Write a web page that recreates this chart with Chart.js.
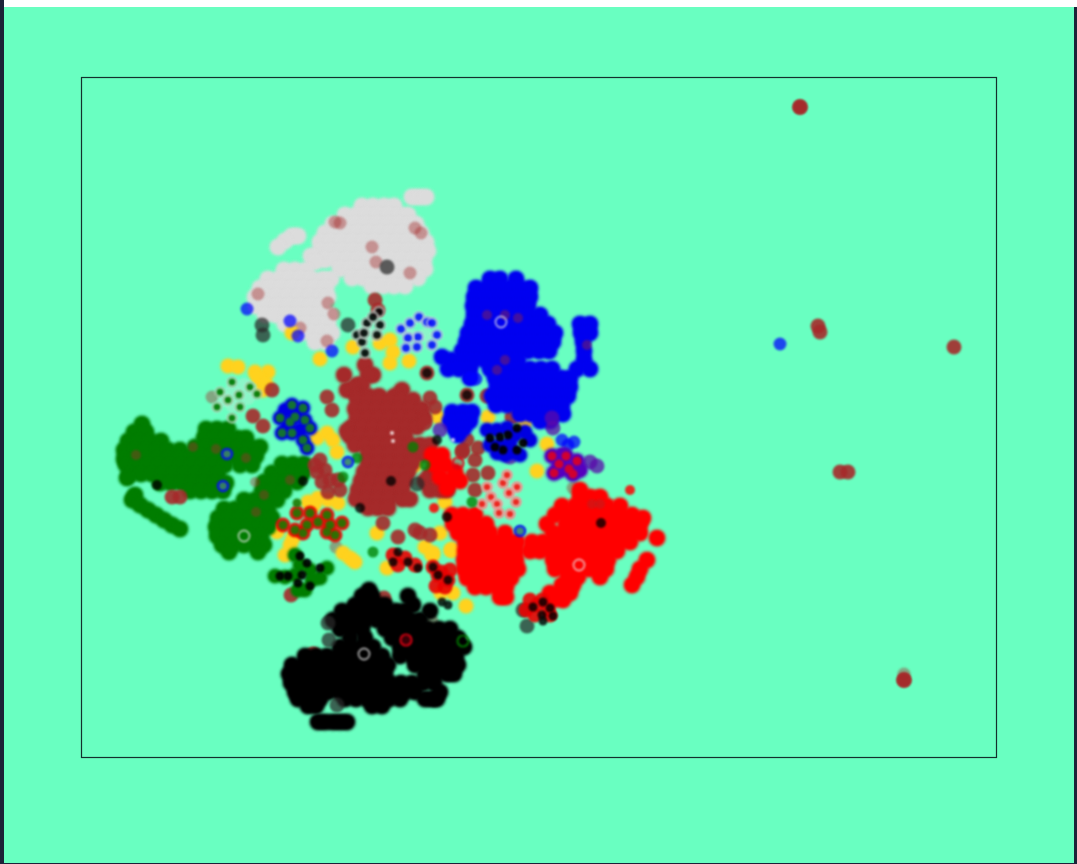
<!DOCTYPE html>
<html><head><meta charset="utf-8">
<style>
html,body{margin:0;padding:0;background:#1c2238;width:1077px;height:864px;overflow:hidden}
#top{position:absolute;left:4px;top:0;width:1073px;height:7px;background:#fff}
#wrap{position:absolute;left:4px;top:7px;width:1070px;height:856px;background:#69ffc1;overflow:hidden}
canvas{display:block}
</style>
<script src="https://cdn.jsdelivr.net/npm/chart.js@4"></script>
</head><body><div id="top"></div><div id="wrap"><canvas id="c" width="1070" height="856"></canvas></div>
<script>
// Each row: [y, x, x, x ...] — embedding coordinates
const grayRows=[[197,412,419,426],[206,362,373,384,394],[215,345,356,367,378,389,400,408],[224,333,344,355,366,377,388,399,410,416],[233,325,336,347,358,369,380,391,402,413,421],[242,320,331,342,353,364,375,386,397,408,419,426],[251,320,331,342,353,364,375,386,397,408,419,428],[260,325,336,347,358,369,380,391,402,413,424],[269,340,351,362,373,384,395,406,417,425],[278,352,363,374,385,396,407,418],[286,372,383,394,405],[236,292,298],[241,285],[247,278],[256,311],[262,315],[270,284,295,306],[279,268,279,290,301,312,323,331],[288,260,271,282,293,304,315,326],[297,255,266,277,288,299,310,321,328],[306,256,267,278,289,300,311,322],[315,265,276,287,298,309,320,330],[324,285,296,307,318,328],[333,300,311,322,332],[342,315,326]];
const greenRows=[[424,142],[429,206,217,228],[432,134,146],[438,204,215,226,237,246],[441,128,139,150,161],[447,195,206,217,228,239,250,260],[450,124,135,146,157,168,180],[456,190,201,212,223,234,245,256],[459,124,135,146,157,168,179],[465,126,137,148,159,170,181,192,203,214,225,240,252],[474,130,141,152,163,174,185,196,207,218],[483,160,171,182,193,204,215,226],[491,190,201,212,223],[478,127],[495,135],[500,132],[505,140],[510,148],[515,156],[520,164],[525,172],[529,180],[464,282,293,304],[473,272,283,294,303],[482,264,275,286,297],[491,262,273,284],[500,244,255,266,277],[509,224,235,246,257,268],[518,218,229,240,251,262,272],[527,216,227,238,249,260,268],[536,217,228,239,250,261],[545,222,233,244,255,264],[552,229,258]];
const blueRows=[[279,490,500,516],[288,476,487,498,509,520,530],[297,474,485,496,507,518,530],[306,473,484,495,506,517,528],[315,474,485,496,507,518,529,540],[324,472,483,494,505,516,527,538,548,580,590],[333,468,479,490,501,512,523,534,545,555,581,590],[342,466,477,488,499,510,521,532,543,553,583],[351,462,473,484,495,506,517,528,539,549,584],[360,452,463,474,485,496,507,518,584],[369,448,459,470,490,497,508,520,530,541,552,577,590],[378,470,495,506,517,528,539,550,561,570],[387,497,508,519,530,541,552,563,570],[396,492,503,514,525,536,547,558,568],[405,496,507,518,529,540,551,562],[414,520,531,542,553,563],[421,540,550],[412,452,463,472],[421,450,460,470],[428,454,464],[435,458],[357,442]];
const brownRows=[[365,365],[375,344,373,368],[385,357,362],[390,347,353,402],[396,357,368,379,395],[400,358,369,380,391,402,413],[409,355,366,377,388,399,410,422],[418,357,368,379,390,401,412,424],[427,352,363,374,385,396,407,417],[431,347],[436,350,361,372,383,394,405],[445,355,366,377,388,399,410,420,430],[454,368,379,390,401,412,422],[463,368,379,390,401,412],[472,364,375,386,397,408],[481,361,372,383,394,405,425],[490,358,369,380,391,402,430,440,447],[499,356,367,378,389,402,410],[508,368,378,388],[475,430],[485,440]];
const redRows=[[455,432,442],[465,435,445],[472,455],[477,440],[481,450,460],[488,447],[515,452,463,475],[524,453,464,475,486],[533,458,468,479,490,505],[542,465,476,487,498,509,517],[551,465,476,487,498,509,516],[560,464,475,486,497,508,516],[569,464,475,486,497,508,518],[578,467,478,489,500,511],[587,475,486,497,506],[597,500,506],[490,580],[497,580,590,600],[506,562,575,586,597,607,620],[515,555,566,577,588,599,610,621,632],[524,547,566,575,586,597,608,619,630,640],[533,553,563,574,585,596,607,618,630,640],[542,532,543,554,565,576,587,598,609,620,630],[551,530,540,551,562,573,584,595,606,617],[560,553,564,575,586,597,608,647],[569,555,566,577,588,596,606,640],[577,568,578,600,637],[585,562,573,632],[593,550,560,570],[600,553,563],[538,657],[518,643]];
const blackRows=[[590,369],[596,362,372,408],[605,355,366,377,385,413],[611,342,352,363,374,385,396,405,430],[620,333,344,355,366,377,388,399,410,420],[629,340,351,362,385,396,407,418,428,439,450],[638,350,365,392,403,414,425,436,447,458],[647,340,351,362,373,400,411,422,433,444,455,464],[656,305,316,327,338,349,360,371,382,400,412,423,434,445,456],[665,292,303,314,325,336,347,358,369,380,388,415,426,437,448,458],[674,289,300,311,322,333,344,355,366,377,385,425,436,447,454],[683,291,302,313,324,335,346,357,368,379,390,401,412,423,434],[692,295,306,317,328,339,350,361,372,383,394,405,415,440],[699,298,309,320,345,356,367,378,389,400,425,432,437],[706,308,316,372,382],[722,318,325,333,340,347]];
// Scattered single marks as [x, y]
const goldPts=[[228,366],[238,367],[255,372],[268,372],[262,380],[258,377],[263,390],[266,384],[317,438],[327,433],[333,440],[337,452],[308,502],[318,498],[328,500],[338,503],[314,505],[277,532],[293,538],[290,545],[285,555],[343,553],[350,558],[355,562],[387,568],[377,533],[445,502],[440,533],[425,547],[432,555],[452,550],[415,465],[438,417],[488,417],[525,422],[441,593],[453,593],[466,606],[451,550],[433,553],[547,444],[537,471],[292,333],[320,359],[353,347],[380,343],[390,340],[393,352],[390,363],[409,361]];
const looseBrown=[[253,416],[263,426],[272,390],[327,397],[332,410],[320,460],[325,470],[317,472],[330,480],[322,482],[338,480],[340,490],[328,492],[315,465],[398,537],[415,530],[420,533],[383,523],[430,535],[467,440],[462,452],[478,448],[475,460],[473,475],[488,473],[475,490],[467,395],[487,396],[427,373],[463,450],[800,107],[800,107],[818,326],[820,332],[954,347],[840,472],[848,472],[904,680],[904,680],[291,595],[384,598],[313,654],[375,300],[378,310],[512,417],[430,398],[435,407],[425,423],[172,497],[180,497]];
const paleBrown=[[335,222],[340,223],[415,228],[421,233],[372,247],[376,262],[410,273],[258,294],[328,303],[334,314],[300,328],[327,341],[212,397],[336,547],[407,622],[399,627],[432,621],[573,488],[904,674]];
const grayDark=[[387,267],[262,325],[263,335],[348,325],[417,484],[328,623],[329,640],[337,705],[527,626],[523,610]];
const blueLoose=[[780,344],[247,309],[298,336],[332,351],[562,440],[574,442],[568,445],[470,378],[476,379],[290,321]];
const purple=[[553,428],[552,418],[590,462],[597,466],[510,457],[440,430]];
const blueBack=[[292,405],[303,408],[280,418],[290,422],[305,420],[295,417],[282,433],[292,433],[303,440],[307,448],[310,428],[295,412],[287,428],[300,430],[285,410],[487,430],[497,430],[507,428],[515,435],[525,432],[530,440],[490,445],[500,445],[510,443],[520,455],[505,455],[512,452],[497,453]];
const purpleBack=[[552,456],[566,456],[577,461],[559,464],[569,469],[554,473],[573,474],[562,455],[580,470],[560,470]];
const redBack=[[310,513],[327,515],[297,513],[283,525],[307,525],[295,530],[330,525],[342,523],[327,532],[335,535],[318,522],[303,533],[530,600],[537,605],[526,610],[548,610],[542,600],[535,615],[550,615],[393,555],[405,558],[415,565],[398,565],[433,567],[438,575],[448,580],[441,572],[445,587],[436,586],[450,570]];
const greenBack=[[295,555],[300,565],[310,570],[295,575],[285,577],[320,578],[305,590],[298,590],[275,576],[312,580],[327,568]];
const palePatch=[[232,390],[244,385],[224,400],[248,398],[232,405],[410,335],[425,335],[372,335],[365,328],[495,490],[505,500],[490,505],[512,490]];
const greenOnBlue=[[292,405],[303,408],[280,418],[290,422],[305,420],[295,417],[282,433],[292,433],[303,440],[307,448],[310,428]];
const greenOnPale=[[232,382],[250,387],[220,392],[239,395],[257,394],[228,400],[217,407],[240,407],[232,418]];
const greenOnRed=[[310,513],[327,515],[297,513],[283,525],[307,525],[295,530],[330,525],[342,523],[327,532],[335,535],[318,522],[303,533],[297,503]];
const blackOnGreen=[[300,556],[320,568],[280,576],[288,576],[302,575],[310,586],[298,583],[307,563]];
const blackOnBlue=[[490,438],[500,437],[517,428],[523,443],[517,450],[508,435],[503,450],[495,447]];
const blackOnRed=[[533,607],[543,602],[550,608],[542,615],[553,616],[543,621],[433,567],[438,575],[448,580],[442,602],[448,605],[393,562],[408,562],[398,552],[418,568]];
const blackOnPale=[[379,312],[367,323],[380,325],[377,335],[357,335],[362,342],[365,353],[373,317],[364,333]];
const blueOnPale=[[401,329],[410,323],[419,317],[427,322],[432,323],[437,335],[432,345],[418,337],[408,338],[406,348],[417,347]];
const redOnPale=[[487,487],[503,483],[507,475],[517,487],[482,504],[491,497],[509,493],[497,504],[499,513],[510,514],[516,502]];
const redOnPurple=[[552,456],[566,456],[577,461],[559,464],[569,469],[554,473],[573,474]];
const brownSpecks=[[136,455],[193,447],[216,449],[246,458],[255,482],[290,480],[264,495],[256,512],[592,504],[497,370],[505,315],[518,318],[487,315],[505,360],[600,504],[587,345]];
const greenSpecks=[[413,447],[425,465],[472,502],[357,458],[343,477],[373,552]];
const darkSpecks=[[157,485],[303,481],[360,508],[437,440],[447,517],[601,523],[427,373],[467,395],[391,481]];
const whiteSpecks=[[392,433],[393,441],[453,440]];
const redSpecks=[[434,508],[630,490]];
const ringBlueGreen=[[227,454],[223,486],[348,462],[520,531]];
const ringWhite=[[501,322],[244,536],[364,654],[579,565]];
const ringRed=[[406,640],[458,463]];
const ringGreen=[[463,641]];

const rgb={gold:'255,210,30',gray:'220,220,220',green:'0,125,0',blue:'0,0,240',brown:'165,42,42',red:'255,0,0',black:'0,0,0'};
const PALE='rgba(220,225,220,.6)';
const fromRows=r=>r.flatMap(a=>a.slice(1).map(x=>({x,y:a[0]})));
const fromPts=p=>p.map(a=>({x:a[0],y:a[1]}));
function ds(data,fill,radius=7.5,border='transparent',bw=0){return {data,backgroundColor:fill,borderColor:border,borderWidth:bw,pointRadius:radius,pointHoverRadius:radius};}
// A mass of marks: a faint outer halo under an opaque core
const blob=(data,c,r=8)=>[ds(data,`rgba(${c},.28)`,r+2),ds(data,`rgb(${c})`,r)];
const sets=[
 blob(fromRows(grayRows),rgb.gray),
 ds(fromPts(paleBrown),'rgba(165,42,42,.42)',6.5),
 blob(fromPts(goldPts),rgb.gold,7),
 blob(fromRows(greenRows),rgb.green),
 blob(fromRows(brownRows),rgb.brown),
 ds(fromPts(looseBrown),'rgba(165,42,42,.9)'),
 blob(fromRows(blueRows),rgb.blue),
 ds(fromPts(blueLoose),'rgba(0,0,255,.72)',6.5),
 ds(fromPts(purple),'rgba(90,10,170,.75)'),
 blob(fromRows(redRows),rgb.red),
 blob(fromRows(blackRows),rgb.black),
 ds(fromPts(grayDark),'rgba(40,40,40,.72)'),
 ds(fromPts(palePatch),'rgba(220,225,220,.3)',7),
 blob(fromPts(blueBack),'0,0,225',7),
 blob(fromPts(purpleBack),'85,0,190',7.5),
 ds(fromPts(redBack),'rgba(235,0,0,.9)',7.5),
 blob(fromPts(greenBack),rgb.green,7),
 ds(fromPts(greenOnBlue),'rgba(20,120,40,.95)',4.5),
 ds(fromPts(greenOnPale),'rgba(0,120,0,.92)',4.5,PALE,2.5),
 ds(fromPts(greenOnRed),'rgba(30,120,0,.9)',4.5),
 ds(fromPts(blackOnGreen),'rgba(0,0,0,.92)',4.5),
 ds(fromPts(blackOnBlue),'rgba(0,0,0,.95)',4.5),
 ds(fromPts(blackOnRed),'rgba(0,0,0,.82)',4.5),
 ds(fromPts(blackOnPale),'rgba(0,0,0,.9)',5,PALE,2.5),
 ds(fromPts(blueOnPale),'rgba(0,0,255,.85)',5,PALE,2.5),
 ds(fromPts(redOnPale),'rgba(255,0,0,.85)',4.5,'rgba(240,170,170,.75)',3),
 ds(fromPts(redOnPurple),'rgba(215,0,40,.95)',4.5),
 ds(fromPts(brownSpecks),'rgba(165,42,42,.4)',5),
 ds(fromPts(greenSpecks),'rgba(0,128,0,.78)',5.5),
 ds(fromPts(darkSpecks),'rgba(0,0,0,.78)',5),
 ds(fromPts(whiteSpecks),'rgba(255,255,255,.8)',2),
 ds(fromPts(redSpecks),'rgba(255,0,0,.85)',5),
 ds(fromPts(ringBlueGreen),'rgba(60,130,110,.9)',5,'rgba(0,0,255,.85)',2.5),
 ds(fromPts(ringWhite),'transparent',5.5,'rgba(235,235,235,.7)',1.8),
 ds(fromPts(ringRed),'rgba(160,0,20,.35)',5.5,'rgba(230,0,20,.85)',2.2),
 ds(fromPts(ringGreen),'transparent',5.5,'rgba(0,128,0,.85)',2.2)
].flat();
sets.forEach((s,i)=>s.order=-i);
// Soft marks, crisp frame: the blur applies only while the datasets draw
const frame={id:'frame',
 beforeDatasetsDraw(ch){ch.ctx.save();ch.ctx.filter='blur(0.85px)';},
 afterDatasetsDraw(ch){ch.ctx.restore();},
 afterDraw(ch){const a=ch.chartArea,c=ch.ctx;c.save();c.strokeStyle='#14302e';c.lineWidth=1.2;c.strokeRect(a.left+.5,a.top+.5,a.right-a.left,a.bottom-a.top);c.restore();}};
new Chart(document.getElementById('c'),{type:'scatter',data:{datasets:sets},plugins:[frame],
 options:{responsive:false,animation:false,layout:{padding:{left:77,top:70,right:78,bottom:106}},
 plugins:{legend:{display:false},tooltip:{enabled:false}},
 scales:{x:{type:'linear',display:false,min:81,max:996},y:{type:'linear',display:false,min:77,max:757,reverse:true}}}});
</script></body></html>
